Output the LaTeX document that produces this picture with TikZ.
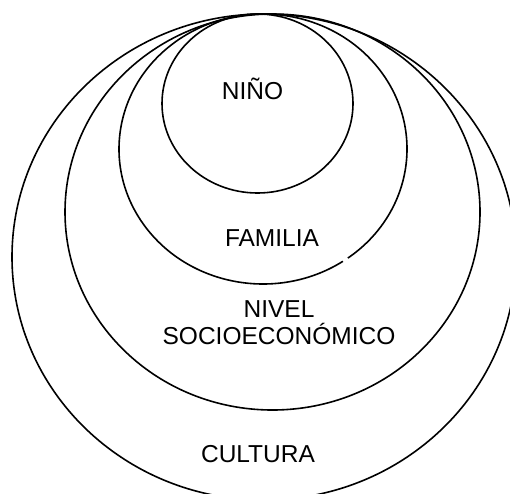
\documentclass[tikz,border=0pt]{standalone}
\usepackage{fontspec}
\setmainfont{Liberation Sans}
\begin{document}
\begin{tikzpicture}[x=1pt,y=-1pt,
  ring/.style={draw=black,line width=1.6pt},
  lbl/.style={font=\fontsize{24.5}{27}\selectfont,inner sep=0pt,anchor=base,align=center}]
\useasboundingbox (0,0) rectangle (510,493);
\begin{scope}
\clip (0,0) rectangle (510,493);
\coordinate (cul) at (264,257);
\coordinate (niv) at (272.5,212);
\coordinate (fam) at (263,149);
\coordinate (nin) at (257.5,103.5);
\draw[ring] (cul) ellipse [x radius=252pt, y radius=243pt];
\draw[ring] (niv) ellipse [x radius=207.5pt, y radius=198pt];
\draw[ring] ([shift={(-53.9:144pt and 135pt)}]fam) arc [start angle=-53.9, end angle=303.7, x radius=144pt, y radius=135pt];
\draw[ring] (nin) ellipse [x radius=95.5pt, y radius=89.5pt];
\end{scope}
\node[lbl] (tnino) at (252.5,99) {NIÑO};
\node[lbl] (tfam) at (272,246) {FAMILIA};
\node[lbl] (tniv) at (279,344) {NIVEL\\SOCIOECONÓMICO};
\node[lbl] (tcul) at (258,462) {CULTURA};
\end{tikzpicture}
\end{document}
